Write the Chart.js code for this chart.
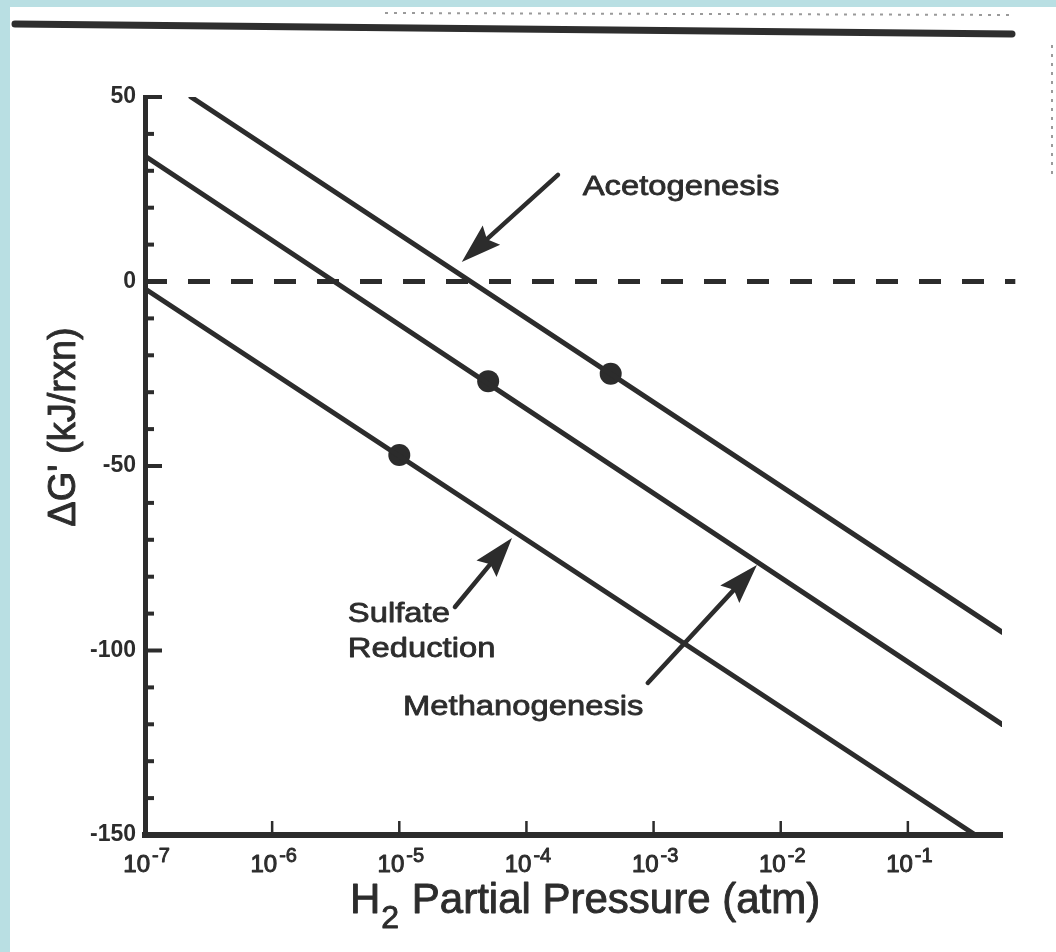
<!DOCTYPE html>
<html><head><meta charset="utf-8">
<script src="https://cdn.jsdelivr.net/npm/chart.js@4.4.0/dist/chart.umd.min.js"></script>
<style>html,body{margin:0;padding:0;background:#fff;overflow:hidden}canvas{display:block}</style>
</head><body>
<canvas id="c" width="1056" height="952"></canvas>
<script>
// ---- data ----
const xTickExponents = [-7, -6, -5, -4, -3, -2, -1];
const yTickValues = [50, 0, -50, -100, -150];
const yMinorTickValues = [40, 30, 20, 10, -10, -20, -30, -40, -60, -70, -80, -90, -110, -120, -130, -140];
const acetogenesisX = [2.3e-7, 0.55];
const acetogenesisY = [50, -95];
const methanogenesisX = [1e-7, 0.55];
const methanogenesisY = [34, -120];
const sulfateX = [1e-7, 0.34];
const sulfateY = [-2, -150];
const zeroLineX = [1e-7, 0.7];
const zeroLineY = [0, 0];
const pointX = [1e-5, 5e-5, 4.6e-4];
const pointY = [-47, -27, -25];
const annotationText = ['Acetogenesis', 'Sulfate', 'Reduction', 'Methanogenesis'];
const annotationX = [2.77e-4, 3.94e-6, 3.94e-6, 1.07e-5];
const annotationY = [23.4, -92.3, -101.8, -117.5];
const arrowTailX = [1.77e-4, 2.74e-5, 9.0e-4];
const arrowTailY = [28.9, -88.2, -108.8];
const arrowTipX = [3.1e-5, 7.7e-5, 6.5e-3];
const arrowTipY = [5.3, -69.5, -76.8];
const xTitleMain = 'H';
const xTitleSub = '2';
const xTitleRest = ' Partial Pressure (atm)';
const yTitle = "\u0394G' (kJ/rxn)";

const INK = '#2c2c2c';
const FONT = '"Liberation Sans", Arial, sans-serif';
const pts = (xs, ys) => xs.map((x, i) => ({x, y: ys[i]}));

const lineDs = (label, xs, ys) => ({
  label, data: pts(xs, ys), showLine: true, borderColor: INK, borderWidth: 5,
  pointRadius: 0, borderCapStyle: 'round', fill: false
});

function heavyText(ctx, t, x, y, w) {
  ctx.lineWidth = w;
  ctx.lineJoin = 'round';
  ctx.strokeText(t, x, y);
  ctx.fillText(t, x, y);
}

const decor = {
  id: 'decor',
  beforeDraw(chart) {
    const ctx = chart.ctx, W = chart.width, H = chart.height;
    ctx.save();
    ctx.fillStyle = '#ffffff';
    ctx.fillRect(0, 0, W, H);
    ctx.fillStyle = '#b9dfe3';
    ctx.fillRect(0, 0, 10, H);
    ctx.fillRect(0, 0, W, 7);
    ctx.strokeStyle = '#9a9a9a';
    ctx.lineWidth = 2;
    ctx.setLineDash([3, 6]);
    ctx.beginPath(); ctx.moveTo(385, 13); ctx.lineTo(1015, 15); ctx.stroke();
    ctx.beginPath(); ctx.moveTo(1052, 45); ctx.lineTo(1052, 180); ctx.stroke();
    ctx.setLineDash([]);
    ctx.strokeStyle = '#2e2e2e';
    ctx.lineWidth = 7;
    ctx.lineCap = 'round';
    ctx.beginPath(); ctx.moveTo(15, 24); ctx.lineTo(1012, 34); ctx.stroke();
    ctx.restore();
  },
  afterDraw(chart) {
    const ctx = chart.ctx;
    const xs = chart.scales.x, ys = chart.scales.y;
    const area = chart.chartArea;
    ctx.save();
    ctx.strokeStyle = INK;
    ctx.fillStyle = INK;
    // y ticks (inward)
    ctx.lineWidth = 4;
    ctx.lineCap = 'butt';
    yTickValues.concat(yMinorTickValues).forEach(v => {
      const py = ys.getPixelForValue(v);
      const len = yTickValues.includes(v) ? 17 : 9;
      ctx.beginPath(); ctx.moveTo(area.left, py); ctx.lineTo(area.left + len, py); ctx.stroke();
    });
    // x ticks (inward) and labels
    xTickExponents.forEach(e => {
      const px = xs.getPixelForValue(Math.pow(10, e));
      if (e > xTickExponents[0]) {
        ctx.lineWidth = 2.5;
        ctx.beginPath(); ctx.moveTo(px, area.bottom); ctx.lineTo(px, area.bottom - 14); ctx.stroke();
      }
      ctx.textBaseline = 'alphabetic';
      ctx.font = '24px ' + FONT;
      ctx.textAlign = 'right';
      heavyText(ctx, '10', px + 5, area.bottom + 37, 1.0);
      ctx.textAlign = 'left';
      ctx.font = '20px ' + FONT;
      heavyText(ctx, String(e), px + 7, area.bottom + 27, 0.9);
    });
    // x title
    ctx.textAlign = 'left';
    ctx.font = '42px ' + FONT;
    const tx = 350, tb = 913;
    heavyText(ctx, xTitleMain, tx, tb, 0.9);
    const wH = ctx.measureText(xTitleMain).width;
    ctx.font = '32px ' + FONT;
    heavyText(ctx, xTitleSub, tx + wH + 1, tb + 15, 0.9);
    const w2 = ctx.measureText(xTitleSub).width;
    ctx.font = '42px ' + FONT;
    heavyText(ctx, xTitleRest, tx + wH + w2 + 2, tb, 0.9);
    // y title
    ctx.save();
    ctx.translate(65, 427);
    ctx.rotate(-Math.PI / 2);
    ctx.textAlign = 'center';
    ctx.textBaseline = 'middle';
    ctx.font = '38px ' + FONT;
    heavyText(ctx, yTitle, 0, 0, 0.9);
    ctx.restore();
    // annotations
    ctx.font = '28px ' + FONT;
    ctx.textAlign = 'left';
    ctx.textBaseline = 'alphabetic';
    annotationText.forEach((t, i) => {
      const px = xs.getPixelForValue(annotationX[i]);
      const py = ys.getPixelForValue(annotationY[i]);
      ctx.save();
      ctx.translate(px, py);
      ctx.scale(1.17, 1);
      heavyText(ctx, t, 0, 0, 0.8);
      ctx.restore();
    });
    // arrows
    arrowTailX.forEach((_, i) => {
      const x1 = xs.getPixelForValue(arrowTailX[i]), y1 = ys.getPixelForValue(arrowTailY[i]);
      const x2 = xs.getPixelForValue(arrowTipX[i]), y2 = ys.getPixelForValue(arrowTipY[i]);
      const ang = Math.atan2(y2 - y1, x2 - x1);
      const headLen = 40, headHalf = 13;
      const bx = x2 - headLen * Math.cos(ang), by = y2 - headLen * Math.sin(ang);
      ctx.lineWidth = 4.5;
      ctx.lineCap = 'round';
      ctx.beginPath(); ctx.moveTo(x1, y1); ctx.lineTo(bx + 6 * Math.cos(ang), by + 6 * Math.sin(ang)); ctx.stroke();
      ctx.beginPath();
      ctx.moveTo(x2, y2);
      ctx.lineTo(bx + headHalf * Math.sin(ang), by - headHalf * Math.cos(ang));
      ctx.lineTo(bx + 6 * Math.cos(ang), by + 6 * Math.sin(ang));
      ctx.lineTo(bx - headHalf * Math.sin(ang), by + headHalf * Math.cos(ang));
      ctx.closePath();
      ctx.fill();
    });
    ctx.restore();
  }
};

new Chart(document.getElementById('c'), {
  type: 'scatter',
  data: {
    datasets: [
      lineDs('Acetogenesis', acetogenesisX, acetogenesisY),
      lineDs('Methanogenesis', methanogenesisX, methanogenesisY),
      lineDs('Sulfate Reduction', sulfateX, sulfateY),
      Object.assign(lineDs('zero', zeroLineX, zeroLineY), {borderDash: [22, 21], borderCapStyle: 'butt', clip: false}),
      {label: 'points', data: pts(pointX, pointY), showLine: false, pointRadius: 11,
       pointBackgroundColor: INK, pointBorderColor: INK, pointBorderWidth: 0}
    ]
  },
  options: {
    responsive: false,
    animation: false,
    devicePixelRatio: 1,
    layout: {padding: {top: 97, right: 54, bottom: 0, left: 0}},
    plugins: {legend: {display: false}, tooltip: {enabled: false}},
    scales: {
      x: {
        type: 'logarithmic', min: 1e-7, max: 0.55,
        grid: {display: false, drawTicks: false},
        border: {display: true, color: INK, width: 6},
        ticks: {display: false},
        afterBuildTicks: s => { s.ticks = xTickExponents.map(e => ({value: Math.pow(10, e)})); },
        afterFit: s => { s.height = 117; }
      },
      y: {
        type: 'linear', min: -150, max: 50,
        grid: {display: false, drawTicks: false},
        border: {display: true, color: INK, width: 5},
        ticks: {
          color: INK, padding: 9,
          font: {family: FONT, size: 23, weight: 'bold'},
          callback: v => String(v)
        },
        afterBuildTicks: s => { s.ticks = yTickValues.map(v => ({value: v})); },
        afterFit: s => { s.width = 145; }
      }
    }
  },
  plugins: [decor]
});
</script>
</body></html>
